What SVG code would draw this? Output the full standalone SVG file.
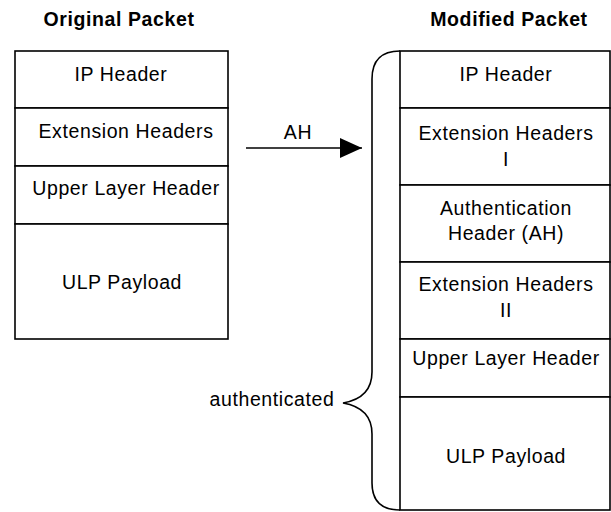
<svg xmlns="http://www.w3.org/2000/svg" width="611" height="512" viewBox="0 0 611 512">
<style>
text{font-family:"Liberation Sans",Arial,sans-serif;font-size:19.5px;letter-spacing:0.6px;fill:#000;text-anchor:middle}
.t{font-weight:bold}
.b{fill:#fff;stroke:#000;stroke-width:1.6}
.c{fill:none;stroke:#000;stroke-width:1.6}
</style>
<defs>
<marker id="ah" markerWidth="22" markerHeight="20" refX="22" refY="10" orient="auto" markerUnits="userSpaceOnUse">
<path d="M0,0 L22,10 L0,20 Z" fill="#000"/>
</marker>
</defs>
<text class="t" x="119" y="26">Original Packet</text>
<text class="t" x="509" y="26">Modified Packet</text>
<g id="orig">
<g id="o-ip"><rect class="b" x="15" y="51" width="213" height="57"/><text x="121" y="81">IP Header</text></g>
<g id="o-ext"><rect class="b" x="15" y="108" width="213" height="58"/><text x="126" y="138">Extension Headers</text></g>
<g id="o-ulh"><rect class="b" x="15" y="166" width="213" height="58"/><text x="126" y="195">Upper Layer Header</text></g>
<g id="o-ulp"><rect class="b" x="15" y="224" width="213" height="115"/><text x="122" y="289">ULP Payload</text></g>
</g>
<g id="mod">
<g id="m-ip"><rect class="b" x="400" y="51" width="210" height="57"/><text x="506" y="81">IP Header</text></g>
<g id="m-ext1"><rect class="b" x="400" y="108" width="210" height="77"/><text x="506" y="140">Extension Headers</text><text x="506" y="166">I</text></g>
<g id="m-ah"><rect class="b" x="400" y="185" width="210" height="77"/><text x="506" y="215">Authentication</text><text x="506" y="240">Header (AH)</text></g>
<g id="m-ext2"><rect class="b" x="400" y="262" width="210" height="77"/><text x="506" y="291">Extension Headers</text><text x="506" y="317">II</text></g>
<g id="m-ulh"><rect class="b" x="400" y="339" width="210" height="58"/><text x="506" y="365">Upper Layer Header</text></g>
<g id="m-ulp"><rect class="b" x="400" y="397" width="210" height="113"/><text x="506" y="463">ULP Payload</text></g>
</g>
<g id="connectors">
<line class="c" x1="246" y1="148" x2="362" y2="148" marker-end="url(#ah)"/>
<text x="298" y="139">AH</text>
<path class="c" d="M400,51 Q372,51 372,79 L372,372 Q372,398 343,403 Q372,408 372,434 L372,483 Q372,510 400,510"/>
<text x="272" y="406">authenticated</text>
</g>
</svg>
